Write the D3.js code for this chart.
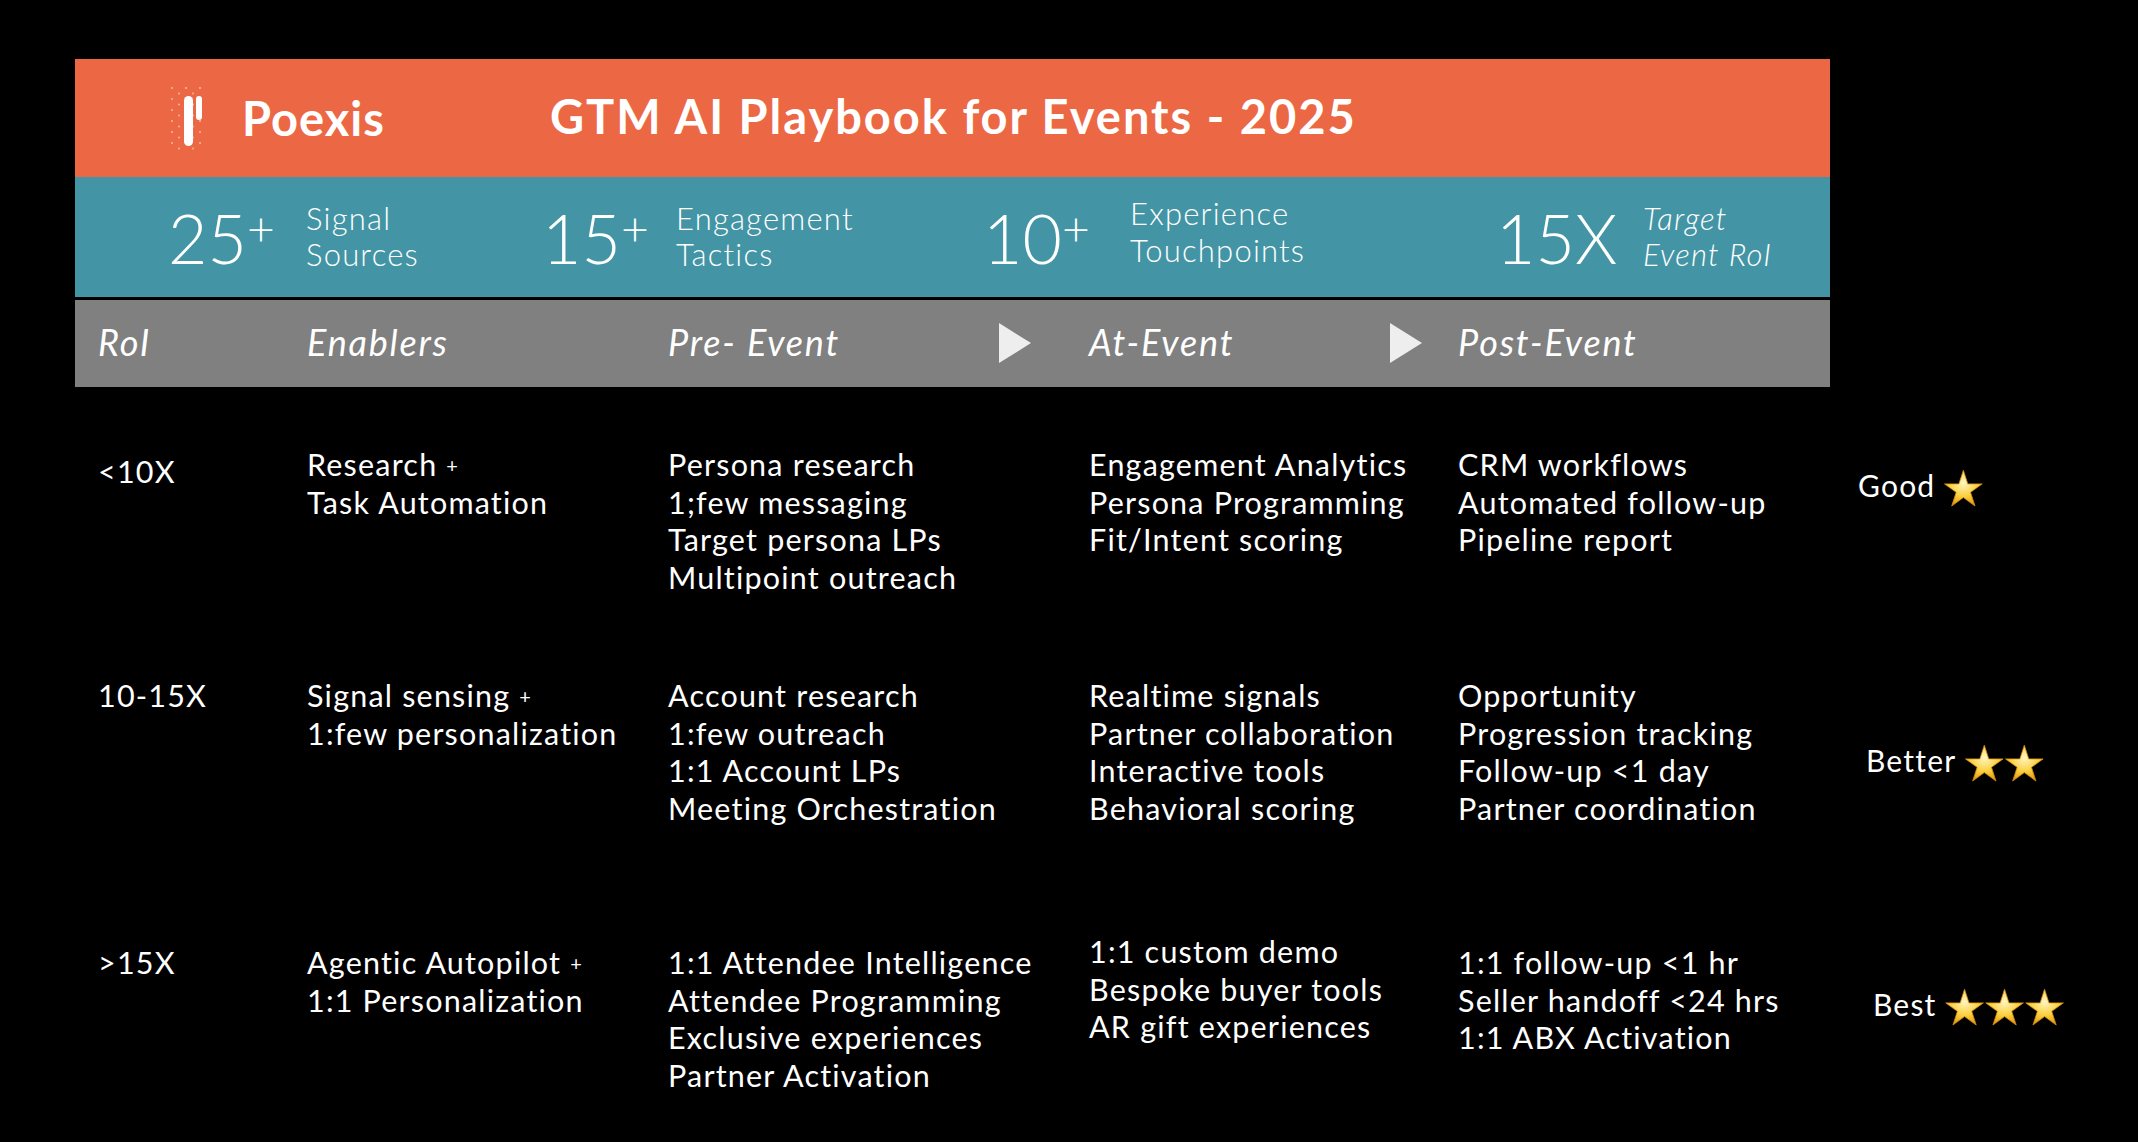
<!DOCTYPE html>
<html><head><meta charset="utf-8">
<script src="https://cdn.jsdelivr.net/npm/d3@7"></script>
<style>html,body{margin:0;background:#000;}svg{display:block;font-family:Lato,"Open Sans",sans-serif;}</style>
</head><body><svg id="c" width="2138" height="1142"></svg>
<script>
const title = "GTM AI Playbook for Events - 2025";
const brand = "Poexis";
const statNumbers = ["25", "15", "10", "15X"];
const statSuffix = ["+", "+", "+", ""];
const statLabels = [["Signal","Sources"],["Engagement","Tactics"],["Experience","Touchpoints"],["Target","Event RoI"]];
const headers = ["RoI","Enablers","Pre- Event","At-Event","Post-Event"];
const roi = ["<10X","10-15X",">15X"];
const enablers = [["Research +","Task Automation"],["Signal sensing +","1:few personalization"],["Agentic Autopilot +","1:1 Personalization"]];
const preEvent = [["Persona research","1;few messaging","Target persona LPs","Multipoint outreach"],["Account research","1:few outreach","1:1 Account LPs","Meeting Orchestration"],["1:1 Attendee Intelligence","Attendee Programming","Exclusive experiences","Partner Activation"]];
const atEvent = [["Engagement Analytics","Persona Programming","Fit/Intent scoring"],["Realtime signals","Partner collaboration","Interactive tools","Behavioral scoring"],["1:1 custom demo","Bespoke buyer tools","AR gift experiences"]];
const postEvent = [["CRM workflows","Automated follow-up","Pipeline report"],["Opportunity","Progression tracking","Follow-up <1 day","Partner coordination"],["1:1 follow-up <1 hr","Seller handoff <24 hrs","1:1 ABX Activation"]];
const ratings = ["Good","Better","Best"];
const stars = [1,2,3];

const svg = d3.select("#c");
svg.append("rect").attr("width",2138).attr("height",1142).attr("fill","#000");
const L=75,R=1830;
svg.append("rect").attr("x",L).attr("y",59).attr("width",R-L).attr("height",118).attr("fill","#ec6845");
svg.append("rect").attr("x",L).attr("y",177).attr("width",R-L).attr("height",120).attr("fill","#4395a5");
svg.append("rect").attr("x",L).attr("y",300).attr("width",R-L).attr("height",87).attr("fill","#808080");

// logo
const lg = svg.append("g").attr("transform","translate(172,88)");
for(let i=0;i<5;i++)for(let j=0;j<12;j++){ if((i+j)%2==0) lg.append("circle").attr("cx",i*7).attr("cy",j*5.5).attr("r",1).attr("fill","#f6b49f");}
lg.append("rect").attr("x",12).attr("y",8).attr("width",9).attr("height",50).attr("rx",4.5).attr("fill","#fff");
lg.append("rect").attr("x",24).attr("y",8).attr("width",6).attr("height",24).attr("rx",3).attr("fill","#fff");
svg.append("text").attr("x",242).attr("y",136).attr("fill","#fff").attr("font-size",47).attr("font-weight",700).attr("letter-spacing",1).text(brand);
svg.append("text").attr("x",550).attr("y",134).attr("fill","#fff").attr("font-size",47).attr("font-weight",700).attr("letter-spacing",2).text(title);

// stats
const statX = d3.scaleOrdinal().domain(d3.range(4)).range([168,542,983,1496]);
const statLX = [306,676,1130,1643];
const statLY = [[220,256],[220,256],[215,252],[220,256]];
statNumbers.forEach((n,i)=>{
  const t=svg.append("text").attr("x",statX(i)).attr("y",264).attr("fill","#fff").attr("font-size",68).attr("font-weight",300);
  t.append("tspan").text(n);
  if(statSuffix[i]) t.append("tspan").attr("font-size",48).attr("dy",-18).text(statSuffix[i]);
  statLabels[i].forEach((l,k)=>svg.append("text").attr("x",statLX[i]).attr("y",statLY[i][k]+10).attr("fill","#fff")
     .attr("font-size",31).attr("font-weight",300).attr("letter-spacing",1.2).attr("font-style",i==3?"italic":"normal").text(l));
});

// headers
const colX = d3.scaleOrdinal().domain(headers).range([98,307,668,1089,1458]);
headers.forEach(h=>svg.append("text").attr("x",colX(h)).attr("y",356).attr("fill","#fff").attr("font-size",36).attr("letter-spacing",1.8).attr("font-style","italic").text(h));
[999,1390].forEach(x=>svg.append("path").attr("d",`M${x},323 L${x+32},343 L${x},363 Z`).attr("fill","#eee"));

// rows
const rowY = d3.scaleOrdinal().domain(roi).range([466,697,964]);
const lh = 37.5;
function lines(col, arr, r, off=0){
  arr.forEach((t,k)=>svg.append("text").attr("x",colX(col)).attr("y",rowY(r)+off+k*lh+10).attr("fill","#fff").attr("font-size",30.5).attr("letter-spacing",1.2).text(t));
}
roi.forEach((r,i)=>{
  svg.append("text").attr("x",colX("RoI")).attr("y",rowY(r)+10+(i==0?7:0)).attr("fill","#fff").attr("font-size",30.5).attr("letter-spacing",1.2).text(r);
  enablers[i].forEach((t,k)=>{
    const tx=svg.append("text").attr("x",colX("Enablers")).attr("y",rowY(r)+k*lh+10).attr("fill","#fff").attr("font-size",30.5).attr("letter-spacing",1.2);
    if(t.endsWith(" +")){tx.append("tspan").text(t.slice(0,-1));tx.append("tspan").attr("font-size",20).attr("dy",-3).text("+");}
    else tx.text(t);
  });
  lines("Pre- Event",preEvent[i],r);
  lines("At-Event",atEvent[i],r,i==2?-11:0);
  lines("Post-Event",postEvent[i],r);
});

// ratings
const defs=svg.append("defs");
const gr=defs.append("radialGradient").attr("id","sg").attr("cx","50%").attr("cy","35%").attr("r","65%");
gr.append("stop").attr("offset","0%").attr("stop-color","#fff6c2");
gr.append("stop").attr("offset","60%").attr("stop-color","#fbcf3c");
gr.append("stop").attr("offset","100%").attr("stop-color","#e59a12");
const ratY=[487,762,1006], ratX=[1858,1866,1873];
const star=d3.symbol().type(d3.symbolStar).size(440);
ratings.forEach((r,i)=>{
  const t=svg.append("text").attr("x",ratX[i]).attr("y",ratY[i]+10).attr("fill","#fff").attr("font-size",30).attr("letter-spacing",1.2).text(r);
  const w=t.node().getComputedTextLength();
  for(let s=0;s<stars[i];s++){
    svg.append("path").attr("d",star).attr("fill","url(#sg)").attr("stroke","#d08a10").attr("stroke-width",0.8)
      .attr("transform",`translate(${ratX[i]+w+28+s*40},${ratY[i]+3})`);
  }
});
</script></body></html>
